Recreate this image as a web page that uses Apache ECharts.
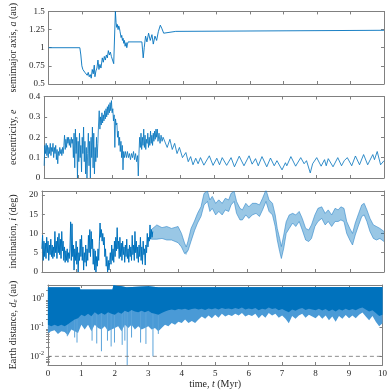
<!DOCTYPE html>
<html><head><meta charset="utf-8">
<script src="https://cdn.jsdelivr.net/npm/echarts@6.0.0/dist/echarts.min.js"></script>
<style>html,body{margin:0;padding:0;background:#fff;}#chart{width:390px;height:390px;}</style>
</head><body><div id="chart"></div>
<script>
// ---------- Panel 1: semimajor axis a (au) ----------
const aT=[0,0.93,0.96,0.99,1.02,1.05,1.08,1.12,1.15,1.18,
1.21,1.24,1.27,1.3,1.33,1.36,1.38,1.41,1.44,1.47,
1.5,1.53,1.56,1.6,1.63,1.66,1.69,1.72,1.75,1.78,
1.81,1.84,1.87,1.9,1.94,1.98,1.99,2.01,2.03,2.05,
2.07,2.09,2.11,2.13,2.16,2.18,2.2,2.22,2.24,2.26,
2.28,2.31,2.33,2.35,2.37,2.78,2.8,2.82,2.85,2.89,
2.93,2.98,3.03,3.08,3.12,3.17,3.22,3.27,3.33,3.38,
3.43,3.47,3.79,3.8,10];
const aV=[1,1,0.9,0.75,0.7,0.72,0.66,0.68,0.62,0.66,
0.6,0.63,0.58,0.7,0.64,0.76,0.6,0.68,0.72,0.83,
0.7,0.77,0.72,0.86,0.8,0.88,0.83,0.9,0.86,0.96,
0.9,0.94,0.88,0.9,0.78,0.8,1.5,1.35,1.28,1.32,
1.25,1.3,1.27,1.22,1.14,1.17,1.1,1.13,1.06,1.1,
1.02,1.07,1.0,1.05,1.08,1.08,0.97,0.86,1.0,1.16,
1.08,1.2,1.1,1.18,1.05,1.16,1.1,1.22,1.31,1.26,
1.2,1.225,1.225,1.24,1.24];

// ---------- Panel 2: eccentricity e ----------
const eT=[0,0.02,0.04,0.06,0.08,0.1,0.12,0.14,0.16,0.18,
0.2,0.22,0.24,0.26,0.28,0.3,0.32,0.34,0.36,0.38,
0.4,0.42,0.44,0.46,0.48,0.5,0.52,0.54,0.56,0.58,
0.6,0.62,0.64,0.66,0.68,0.7,0.72,0.74,0.76,0.78,
0.8,0.82,0.84,0.86,0.88,0.9,0.92,0.94,0.96,0.98,
1,1.02,1.04,1.06,1.08,1.1,1.12,1.14,1.16,1.18,
1.2,1.22,1.24,1.26,1.28,1.3,1.32,1.34,1.36,1.38,
1.4,1.42,1.44,1.46,1.48,1.5,1.52,1.54,1.56,1.58,
1.6,1.62,1.64,1.66,1.68,1.7,1.72,1.74,1.76,1.78,
1.8,1.82,1.84,1.86,1.88,1.9,1.92,1.94,1.96,1.98,
2,2.02,2.04,2.06,2.08,2.1,2.12,2.14,2.16,2.18,
2.2,2.22,2.24,2.26,2.28,2.3,2.32,2.34,2.36,
2.39,2.42,2.45,2.48,2.51,2.54,2.57,2.6,2.63,2.66,
2.69,2.72,2.75,2.77,2.79,2.81,2.83,2.85,2.87,2.89,
2.91,2.93,2.95,2.97,2.99,3.01,3.03,3.05,3.07,3.09,
3.11,3.13,3.15,3.17,3.19,3.21,3.23,3.25,3.27,3.29,
3.31,3.33,3.35,3.38,3.41,3.44,3.47,3.5,3.55,3.62,
3.7,3.77,3.84,3.91,3.98,4.07,4.17,4.24,4.31,4.38,
4.46,4.53,4.6,4.7,4.86,4.97,5.08,5.16,5.24,5.37,
5.5,5.6,5.74,5.88,6.03,6.12,6.22,6.3,6.41,6.55,
6.66,6.77,6.85,7.0,7.1,7.14,7.26,7.4,7.55,7.65,
7.72,7.83,7.9,8.02,8.15,8.25,8.3,8.36,8.5,8.64,
8.75,8.83,8.92,9.05,9.16,9.28,9.4,9.52,9.67,9.72,
9.8,9.9,10];
const eV=[0.06,0.16,0.12,0.17,0.11,0.16,0.1,0.15,0.12,0.17,
0.11,0.15,0.13,0.17,0.1,0.15,0.12,0.16,0.09,0.14,
0.07,0.13,0.11,0.15,0.12,0.14,0.11,0.15,0.12,0.16,
0.21,0.14,0.19,0.15,0.2,0.17,0.2,0.16,0.19,0.15,
0.2,0.17,0.19,0.1,0.22,0.05,0.24,0.12,0.2,0.0,
0.18,0.08,0.22,0.1,0.16,0.03,0.2,0.12,0.25,0.08,
0.18,0.02,0.15,0.0,0.12,0.22,0.06,0.18,0.0,0.2,
0.1,0.25,0.05,0.22,0.02,0.15,0.08,0.2,0.1,0.17,
0.26,0.33,0.24,0.3,0.26,0.32,0.27,0.31,0.28,0.33,
0.29,0.34,0.3,0.35,0.31,0.36,0.32,0.37,0.33,0.38,
0.32,0.34,0.28,0.31,0.15,0.29,0.26,0.27,0.2,0.23,
0.16,0.2,0.13,0.18,0.1,0.16,0.04,0.13,0.1,
0.13,0.1,0.13,0.1,0.12,0.09,0.12,0.1,0.13,0.09,
0.12,0.08,0.11,0.01,0.12,0.2,0.15,0.22,0.14,0.2,
0.16,0.24,0.15,0.21,0.14,0.19,0.17,0.22,0.15,0.2,
0.16,0.23,0.17,0.21,0.16,0.22,0.18,0.23,0.19,0.24,
0.2,0.24,0.18,0.22,0.17,0.21,0.18,0.2,0.2,0.15,
0.19,0.14,0.17,0.12,0.15,0.1,0.125,0.08,0.105,0.065,
0.097,0.07,0.1,0.063,0.109,0.062,0.097,0.065,0.1,0.062,
0.1,0.055,0.107,0.06,0.109,0.068,0.095,0.06,0.105,0.055,
0.098,0.06,0.085,0.04,0.075,0.06,0.105,0.058,0.1,0.07,
0.085,0.025,0.07,0.1,0.058,0.09,0.06,0.095,0.055,0.1,
0.06,0.085,0.1,0.06,0.108,0.065,0.115,0.065,0.115,0.09,
0.13,0.065,0.085];

// ---------- Panel 3: inclination i (deg) ----------
// noisy early phase
const incT=[0,0.02,0.04,0.06,0.08,0.1,0.12,0.14,0.16,0.18,
0.2,0.22,0.24,0.26,0.28,0.3,0.32,0.34,0.36,0.38,
0.4,0.42,0.44,0.46,0.48,0.5,0.52,0.54,0.56,0.58,
0.6,0.62,0.64,0.66,0.68,0.7,0.72,0.74,0.76,0.78,
0.8,0.82,0.84,0.86,0.88,0.9,0.92,0.94,0.96,0.98,
1,1.02,1.04,1.06,1.08,1.1,1.12,1.14,1.16,1.18,
1.2,1.22,1.24,1.26,1.28,1.3,1.32,1.34,1.36,1.38,
1.4,1.42,1.44,1.46,1.48,1.5,1.52,1.54,1.56,1.58,
1.6,1.62,1.64,1.66,1.68,1.7,1.72,1.74,1.76,1.78,
1.8,1.82,1.84,1.86,1.88,1.9,1.92,1.94,1.96,1.98,
2,2.02,2.04,2.06,2.08,2.1,2.12,2.14,2.16,2.18,
2.2,2.22,2.24,2.26,2.28,2.3,2.32,2.34,2.36,2.38,
2.4,2.42,2.44,2.46,2.48,2.5,2.52,2.54,2.56,2.58,
2.6,2.62,2.64,2.66,2.68,2.7,2.72,2.74,2.76,2.78,
2.8,2.82,2.84,2.86,2.88,2.9,2.92,2.94,2.96,2.98,
3,3.02,3.04,3.06,3.08,3.1,3.12,3.14,3.16,3.18,
3.2,3.22,3.24];
const incV=[6.0,9.5,3.0,8.0,4.0,7.5,3.5,9.0,5.0,8.0,
3.0,7.0,4.5,8.5,4.0,7.0,3.5,6.5,4.0,10.5,
5.0,8.0,3.5,9.0,5.0,10.0,4.5,8.5,3.5,10.5,
5.5,8.0,3.0,6.5,2.5,5.5,3.0,6.0,2.5,5.0,
3.5,6.0,13.0,3.0,12.5,4.0,7.0,0.5,6.0,3.0,
8.0,2.0,6.5,0.0,5.0,3.0,8.5,4.0,9.5,3.0,
6.5,0.5,5.0,2.5,7.0,1.5,6.0,3.0,9.5,5.0,
11.0,4.0,10.5,6.0,8.5,2.0,6.0,0.5,5.5,0.0,
4.0,1.5,6.0,3.0,8.0,12.7,9.0,11.0,8.0,10.0,
7.0,9.0,4.0,6.0,1.5,4.0,0.0,3.0,0.5,2.5,
5.0,2.0,7.0,3.0,6.0,2.5,8.0,4.0,9.0,5.5,
11.5,6.0,8.0,3.5,9.0,4.0,7.5,3.0,8.0,4.5,
6.5,2.5,7.0,4.0,8.5,3.5,6.0,2.5,7.0,4.0,
6.5,3.0,9.5,4.5,7.0,3.0,10.5,5.0,8.0,3.5,
6.5,2.5,7.0,4.0,9.0,3.0,6.5,2.0,8.0,4.5,
6.0,1.8,7.0,5.0,10.0,6.5,9.0,8.0,12.2,8.5,
11.0,9.0,10.5];
// fast-oscillation band (upper / lower envelope)
const incBandT=[3.2,3.36,3.51,3.65,3.79,3.98,4.08,4.17,4.22,4.27,
4.36,4.46,4.55,4.65,4.74,4.84,4.91,4.98,5.08,5.17,
5.27,5.36,5.46,5.53,5.62,5.69,5.79,5.86,5.96,6.05,
6.15,6.26,6.36,6.45,6.55,6.64,6.74,6.82,6.88,6.95,
7.0,7.07,7.14,7.23,7.33,7.42,7.52,7.61,7.71,7.8,
7.88,7.98,8.07,8.18,8.28,8.37,8.47,8.57,8.66,8.74,
8.83,8.91,9.0,9.08,9.16,9.26,9.35,9.42,9.5,9.59,
9.69,9.78,9.88,10.0];
const incHi=[11.0,12.2,11.5,11.8,11.3,11.8,10.0,7.5,6.5,8.0,
11.3,13.2,15.2,16.9,20.4,21.0,18.7,19.6,17.8,18.7,
17.8,19.1,18.7,20.4,20.9,18.3,16.5,16.1,17.8,16.9,
17.8,17.8,17.4,19.1,21.3,18.7,17.8,14.8,11.3,8.7,
6.6,9.6,13.0,14.8,15.2,14.8,15.7,13.9,11.3,10.9,
12.2,14.8,16.5,16.9,15.2,16.1,14.8,16.5,16.1,16.9,
16.5,13.1,11.3,10.0,12.7,15.2,17.4,17.8,16.1,13.9,
12.2,11.8,11.3,10.5];
const incLo=[8.5,8.5,8.7,8.3,8.3,7.6,6.5,4.8,4.4,5.5,
8.0,10.7,12.7,14.4,17.4,18.3,15.7,16.5,14.8,15.7,
14.8,16.1,15.7,17.4,18.3,15.2,13.5,13.5,14.8,13.9,
14.8,15.2,14.4,16.1,18.3,15.7,14.8,11.8,8.3,5.3,
3.5,6.2,10.0,11.3,12.7,11.8,13.1,10.9,8.3,7.9,
8.7,11.8,13.1,13.9,12.2,13.1,11.8,13.1,13.1,13.5,
13.1,10.0,8.3,7.0,9.6,12.2,14.4,14.8,13.1,10.5,
8.7,8.3,8.7,7.9];

// ---------- Panel 4: Earth distance d_e (au) ----------
const deHiT=[0,0.95,0.97,1.93,1.96,2.05,2.2,2.35,3.0,3.3,10];
const deHiV=[2.5,2.5,2.1,2.1,3.0,2.8,2.7,2.5,2.7,2.5,2.55];
const deT=[0,0.1,0.2,0.3,0.4,0.5,0.6,0.7,0.8,0.9,
1,1.1,1.2,1.3,1.4,1.5,1.6,1.7,1.8,1.9,
2,2.1,2.2,2.3,2.4,2.5,2.6,2.7,2.8,2.9,
3,3.1,3.2,3.3,3.4,3.5,3.6,3.7,3.8,3.9,
4,4.1,4.2,4.3,4.4,4.5,4.6,4.7,4.8,4.9,
5,5.1,5.2,5.3,5.4,5.5,5.6,5.7,5.8,5.9,
6,6.1,6.2,6.3,6.4,6.5,6.6,6.7,6.8,6.9,
7,7.1,7.2,7.3,7.4,7.5,7.6,7.7,7.8,7.9,
8,8.1,8.2,8.3,8.4,8.5,8.6,8.7,8.8,8.9,
9,9.1,9.2,9.3,9.4,9.5,9.6,9.7,9.8,9.9,
10];
const deCore=[0.125,0.11,0.125,0.11,0.125,0.11,0.13,0.16,0.19,0.21,
0.28,0.245,0.3,0.245,0.34,0.28,0.32,0.28,0.34,0.3,
0.28,0.34,0.3,0.38,0.34,0.41,0.36,0.34,0.38,0.34,
0.38,0.32,0.3,0.28,0.32,0.36,0.4,0.42,0.4,0.44,
0.42,0.45,0.41,0.44,0.46,0.42,0.45,0.41,0.46,0.43,
0.47,0.42,0.48,0.44,0.46,0.43,0.48,0.44,0.5,0.42,
0.46,0.43,0.48,0.4,0.45,0.42,0.5,0.44,0.47,0.4,
0.44,0.38,0.34,0.42,0.38,0.44,0.48,0.41,0.45,0.42,
0.4,0.45,0.39,0.44,0.37,0.42,0.36,0.43,0.39,0.45,
0.4,0.44,0.4,0.46,0.5,0.42,0.36,0.4,0.32,0.25,
0.28];
const deFringe=[0.065,0.075,0.08,0.06,0.075,0.07,0.053,0.085,0.075,0.065,
0.125,0.085,0.125,0.075,0.125,0.097,0.085,0.11,0.075,0.085,
0.097,0.11,0.075,0.125,0.097,0.125,0.085,0.11,0.085,0.097,
0.11,0.085,0.097,0.075,0.097,0.125,0.11,0.143,0.125,0.16,
0.143,0.19,0.143,0.17,0.143,0.19,0.24,0.2,0.26,0.21,
0.28,0.22,0.3,0.24,0.28,0.25,0.3,0.26,0.32,0.24,
0.28,0.25,0.3,0.21,0.28,0.22,0.32,0.26,0.3,0.22,
0.26,0.2,0.14,0.25,0.2,0.26,0.3,0.22,0.28,0.24,
0.21,0.27,0.2,0.26,0.18,0.24,0.16,0.25,0.2,0.27,
0.21,0.26,0.21,0.28,0.33,0.24,0.18,0.25,0.16,0.11,
0.14];
const spikeT=[0.58,0.8,0.87,1.32,1.46,1.6,1.78,1.89,1.99,2.22,2.3,2.37,2.5,2.77,2.93,3.14,3.3];
const spikeMin=[0.05,0.045,0.03,0.035,0.028,0.015,0.035,0.022,0.03,0.025,0.035,0.005,0.045,0.03,0.027,0.01,0.06];
const refT=[0,10];
const refD=[0.01,0.01];

// ---------- tick labels ----------
const xTicks=[0,1,2,3,4,5,6,7,8,9,10];
const incTicks=[0,5,10,15,20];
const deExp=[-2,-1,0];

// ---------- build ----------
const FONT='"Liberation Serif","Times New Roman",serif';
const TXT='#262626', AX='#808080', BLUE='#0072BD';
const L=v=>Math.log10(v);
const zip=(xs,ys,f)=>xs.map((x,k)=>[x, f?f(ys[k]):ys[k]]);

const grids=[
  {left:34,right:6,top:4.5,height:79.5},
  {left:34,right:6,top:96.5,height:81.5},
  {left:34,right:6,top:191,height:81},
  {left:34,right:6,top:285,height:80}
];
const nameRich={
  i:{fontFamily:FONT,fontSize:10,fontStyle:'italic',color:TXT},
  sub:{fontFamily:FONT,fontSize:7,fontStyle:'italic',color:TXT,padding:[5,0,0,0]}
};
function xAx(gi,pos,labels){
  const o={type:'value',gridIndex:gi,position:pos,min:0,max:10,interval:1,
    axisLine:{show:true,onZero:false,lineStyle:{color:AX,width:1}},
    axisTick:{show:true,inside:true,length:3,lineStyle:{color:AX,width:1}},
    axisLabel:{show:labels,margin:4,fontFamily:FONT,fontSize:9,color:TXT},
    splitLine:{show:false}};
  if(labels){
    o.name='time, {i|t} (Myr)';o.nameLocation='middle';o.nameGap=14;
    o.nameTextStyle={fontFamily:FONT,fontSize:10,color:TXT,rich:nameRich};
  }
  return o;
}
function yAx(gi,pos,c){
  const left=pos==='left';
  const o={type:'value',gridIndex:gi,position:pos,min:c.min,max:c.max,
    axisLine:{show:true,onZero:false,lineStyle:{color:AX,width:1}},
    axisTick:{show:true,inside:true,length:3,lineStyle:{color:AX,width:1}},
    axisLabel:{show:left,margin:4,fontFamily:FONT,fontSize:9,color:TXT},
    splitLine:{show:false}};
  if(c.interval!=null)o.interval=c.interval;
  if(c.custom){o.axisTick.customValues=c.custom;o.axisLabel.customValues=c.custom;}
  if(c.formatter){o.axisLabel.formatter=c.formatter;
    o.axisLabel.rich={s:{fontFamily:FONT,fontSize:6,color:TXT,padding:[0,0,6,0]}};}
  if(left&&c.name){o.name=c.name;o.nameLocation='middle';o.nameGap=21;
    o.nameTextStyle={fontFamily:FONT,fontSize:10,color:TXT,rich:nameRich};}
  return o;
}
const yCfg=[
  {min:0.5,max:1.5,interval:0.25,name:'semimajor axis, {i|a} (au)'},
  {min:0,max:0.4,interval:0.1,name:'eccentricity, {i|e}'},
  {min:0,max:21,custom:incTicks,name:'inclination, {i|i} (deg)'},
  {min:L(0.005),max:L(3),custom:deExp,formatter:v=>'10{s|'+Math.round(v)+'}',
   name:'Earth distance, {i|d}{sub|e} (au)'}
];
const xAxes=[],yAxes=[];
for(let g=0;g<4;g++){
  xAxes.push(xAx(g,'bottom',g===3));
  xAxes.push(xAx(g,'top',false));
  yAxes.push(yAx(g,'left',yCfg[g]));
  yAxes.push(yAx(g,'right',yCfg[g]));
}
// log minor ticks for panel 4
const minorVals=[];
[-3,-2,-1,0].forEach(n=>{for(let k=2;k<=9;k++){const v=L(k)+n;
  if(v>L(0.005)+1e-6&&v<L(3)-1e-6)minorVals.push(v);}});
['left','right'].forEach(p=>yAxes.push({type:'value',gridIndex:3,position:p,min:L(0.005),max:L(3),
  axisLine:{show:false},axisLabel:{show:false},splitLine:{show:false},
  axisTick:{show:true,inside:true,length:1.8,customValues:minorVals,lineStyle:{color:AX,width:1}}}));

function band(gi,topT,topV,botT,botV,fill,f){
  f=f||(v=>v);
  return {type:'custom',xAxisIndex:2*gi,yAxisIndex:2*gi,clip:true,silent:true,
    data:[[topT[0],f(topV[0])]],
    renderItem:function(params,api){
      const pts=[];
      for(let k=0;k<topT.length;k++)pts.push(api.coord([topT[k],f(topV[k])]));
      for(let k=botT.length-1;k>=0;k--)pts.push(api.coord([botT[k],f(botV[k])]));
      return {type:'polygon',shape:{points:pts},style:{fill:fill,stroke:null}};
    }};
}
function line(gi,data,color,width,extra){
  return Object.assign({type:'line',xAxisIndex:2*gi,yAxisIndex:2*gi,data:data,symbol:'none',
    showSymbol:false,silent:true,clip:true,lineStyle:{color:color,width:width}},extra||{});
}

const series=[
  line(0,zip(aT,aV),BLUE,0.9),
  line(1,zip(eT,eV),BLUE,0.8),
  band(2,incBandT,incHi,incBandT,incLo,'rgba(0,114,189,0.4)'),
  line(2,zip(incBandT,incHi),'#2f86c9',0.6),
  line(2,zip(incBandT,incLo),'#2f86c9',0.6),
  line(2,zip(incT,incV),BLUE,1),
  band(3,deHiT,deHiV,deT,deFringe,'#4a9ad6',L),
  {type:'custom',xAxisIndex:6,yAxisIndex:6,clip:true,silent:true,
   data:zip(spikeT,spikeMin,L),
   renderItem:function(params,api){
     const t=api.value(0);
     const a=api.coord([t,0]),b=api.coord([t,api.value(1)]);
     return {type:'line',shape:{x1:a[0],y1:a[1],x2:b[0],y2:b[1]},style:{stroke:'#5aa3da',lineWidth:1}};
   }},
  band(3,deHiT,deHiV,deT,deCore,BLUE,L),
  line(3,zip(refT,refD,L),'#6e6e6e',0.8,{lineStyle:{color:'#6e6e6e',width:0.8,type:[4,3]}})
];

const chart=echarts.init(document.getElementById('chart'));
chart.setOption({animation:false,backgroundColor:'#fff',grid:grids,xAxis:xAxes,yAxis:yAxes,series:series});
</script></body></html>
